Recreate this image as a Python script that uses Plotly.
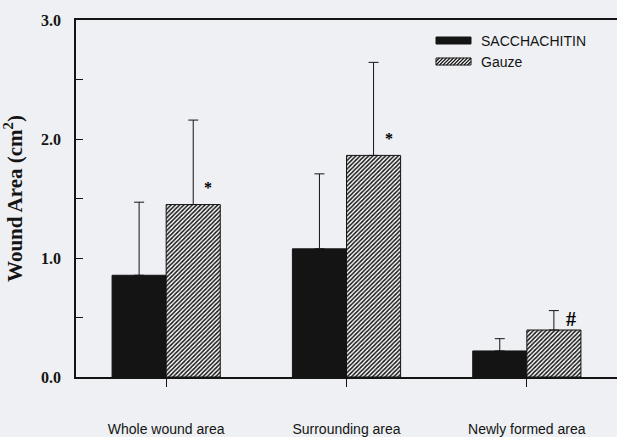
import plotly.graph_objects as go

# ---- data ----
categories = ["Whole wound area", "Surrounding area", "Newly formed area"]
sacch_mean = [0.855, 1.077, 0.219]
sacch_err = [0.614, 0.630, 0.103]
gauze_mean = [1.449, 1.862, 0.395]
gauze_err = [0.710, 0.782, 0.163]
gauze_marks = ["*", "*", "#"]
y_tickvals = [0, 1, 2, 3]
y_ticktext = ["0.0", "1.0", "2.0", "3.0"]
series_names = ["SACCHACHITIN", "Gauze"]

INK = "#141414"
BG = "#eef0f3"
SERIF = "Liberation Serif, Times New Roman, serif"
SANS = "Liberation Sans, Arial, sans-serif"

W, H = 617, 437
ML, MR, MT, MB = 76, 0, 20, 60

fig = go.Figure()
fig.add_trace(go.Bar(
    x=categories, y=sacch_mean, name=series_names[0],
    marker=dict(color=INK, line=dict(color=INK, width=1)),
    error_y=dict(type="data", symmetric=False, array=sacch_err,
                 arrayminus=[0] * len(sacch_err), color=INK, thickness=1, width=5),
    showlegend=False,
))
fig.add_trace(go.Bar(
    x=categories, y=gauze_mean, name=series_names[1],
    marker=dict(color="white", line=dict(color=INK, width=1),
                pattern=dict(shape="/", size=3, solidity=0.5,
                             fgcolor=INK, bgcolor="white", fillmode="replace")),
    error_y=dict(type="data", symmetric=False, array=gauze_err,
                 arrayminus=[0] * len(gauze_err), color=INK, thickness=1, width=5),
    showlegend=False,
))

# significance marks above the gauze bars
for cat, val, mark in zip(categories, gauze_mean, gauze_marks):
    big = mark == "#"
    fig.add_annotation(
        x=cat, y=val, xref="x", yref="y", text=mark, showarrow=False,
        xshift=44 if big else 42, yshift=11 if big else 17,
        font=dict(family=SERIF, size=20 if big else 16, color="black", weight="bold"),
        xanchor="center", yanchor="middle",
    )

# ---- custom legend (long flat swatches like the original) ----
def px_to_paper(px, py):
    pw = W - ML - MR
    ph = H - MT - MB
    return (px - ML) / pw, (H - MB - py) / ph

sw_x0, sw_w, sw_h = 436, 35, 7
rows_y = [37, 58]
for i, (name, top) in enumerate(zip(series_names, rows_y)):
    ax, ay = px_to_paper(sw_x0, top + sw_h)
    fig.add_shape(type="rect", xref="paper", yref="paper",
                  xsizemode="pixel", ysizemode="pixel", xanchor=ax, yanchor=ay,
                  x0=0, x1=sw_w, y0=0, y1=sw_h,
                  line=dict(color=INK, width=1),
                  fillcolor=INK if i == 0 else "white")
    if i == 1:
        segs = []
        step = 3.5
        k = -sw_h
        while k < sw_w:
            xa, ya = k, 0.0
            xb, yb = k + sw_h, float(sw_h)
            if xa < 0:
                ya = -xa; xa = 0.0
            if xb > sw_w:
                yb = sw_h - (xb - sw_w); xb = float(sw_w)
            if xb > xa:
                segs.append(f"M{xa:.2f},{ya:.2f} L{xb:.2f},{yb:.2f}")
            k += step
        fig.add_shape(type="path", xref="paper", yref="paper",
                      xsizemode="pixel", ysizemode="pixel", xanchor=ax, yanchor=ay,
                      path=" ".join(segs), line=dict(color=INK, width=1.2))
    tx, ty = px_to_paper(479, top + sw_h / 2)
    fig.add_annotation(x=tx, y=ty, xref="paper", yref="paper", text=name,
                       showarrow=False, xanchor="left", yanchor="middle",
                       font=dict(family=SANS, size=14, color=INK))

fig.update_layout(
    width=W, height=H, autosize=False,
    margin=dict(l=ML, r=MR, t=MT, b=MB, pad=0),
    paper_bgcolor=BG, plot_bgcolor=BG,
    barmode="group", bargap=0.4, bargroupgap=0,
    showlegend=False,
)
fig.update_xaxes(
    type="category", range=[-0.5, 2.5], automargin=False,
    showline=True, linecolor=INK, linewidth=1.5, mirror=True,
    ticks="outside", ticklen=8, tickwidth=1, tickcolor=INK,
    tickfont=dict(family=SANS, size=14, color=INK),
    ticklabelstandoff=30, showgrid=False, zeroline=False,
)
fig.update_yaxes(
    range=[0, 3], tickvals=y_tickvals, ticktext=y_ticktext, automargin=False,
    showline=True, linecolor=INK, linewidth=1.5,
    ticks="inside", ticklen=7, tickwidth=1, tickcolor=INK,
    minor=dict(dtick=0.5, ticks="inside", ticklen=7, tickwidth=1, tickcolor=INK),
    tickfont=dict(family=SERIF, size=16, color=INK, weight="bold"),
    ticklabelstandoff=10, showgrid=False, zeroline=False,
    title=dict(text="Wound Area (cm<sup>2</sup>)", standoff=13,
               font=dict(family=SERIF, size=21, color=INK, weight="bold")),
)

fig.write_html("out.html", config={"displayModeBar": False},
               post_script="document.body.style.margin='0';")
